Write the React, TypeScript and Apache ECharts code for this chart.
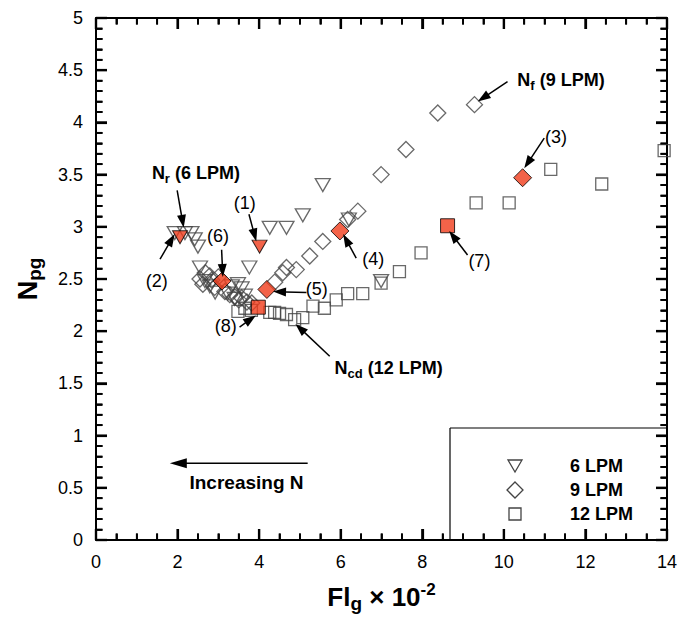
import { useEffect, useRef } from 'react';
import * as echarts from 'echarts';

const FONT = '"Liberation Sans", Arial, sans-serif';

// axis ticks
const xTickValues = [0, 2, 4, 6, 8, 10, 12, 14];
const yTickValues = [0, 0.5, 1, 1.5, 2, 2.5, 3, 3.5, 4, 4.5, 5];
const xMinorPerMajor = 4;
const yMinorPerMajor = 5;

// 6 LPM (hollow down-triangles)
const lpm6: [number, number][] = [
  [1.93, 2.94], [2.18, 2.94], [2.34, 2.94], [2.42, 2.88], [2.5, 2.81],
  [2.55, 2.61], [2.67, 2.48], [2.79, 2.43], [2.92, 2.37], [3.23, 2.36],
  [3.33, 2.43], [3.4, 2.31], [3.48, 2.45], [3.57, 2.41], [3.65, 2.34],
  [3.76, 2.61], [4.26, 2.99], [4.67, 2.99], [5.07, 3.11], [5.56, 3.4],
  [6.2, 3.07], [6.99, 2.48],
];
// 9 LPM (hollow diamonds)
const lpm9: [number, number][] = [
  [2.55, 2.5], [2.62, 2.45], [2.68, 2.56], [2.79, 2.53], [2.84, 2.49],
  [2.91, 2.42], [3.0, 2.52], [3.16, 2.38], [3.28, 2.35], [3.4, 2.33],
  [3.5, 2.3], [3.57, 2.32], [3.7, 2.28], [3.82, 2.27], [4.38, 2.47],
  [4.58, 2.56], [4.67, 2.61], [4.91, 2.59], [5.24, 2.72], [5.56, 2.86],
  [6.17, 3.07], [6.42, 3.15], [6.99, 3.5], [7.6, 3.74], [8.38, 4.09],
  [9.28, 4.17],
];
// 12 LPM (hollow squares)
const lpm12: [number, number][] = [
  [3.48, 2.19], [3.65, 2.22], [3.81, 2.2], [4.26, 2.18], [4.38, 2.18],
  [4.5, 2.17], [4.67, 2.16], [4.87, 2.11], [5.07, 2.13], [5.32, 2.24],
  [5.6, 2.22], [5.89, 2.3], [6.17, 2.36], [6.54, 2.36], [6.99, 2.46],
  [7.44, 2.57], [7.97, 2.75], [9.32, 3.23], [10.13, 3.23], [11.15, 3.55],
  [12.4, 3.41], [13.93, 3.73],
];
// highlighted (red) points
const red6: [number, number][] = [[4.01, 2.81], [2.06, 2.9]];
const red9: [number, number][] = [[10.46, 3.47], [5.98, 2.96], [4.19, 2.4], [3.09, 2.48]];
const red12: [number, number][] = [[8.62, 3.01], [3.98, 2.23]];

// numbered annotations: label position, arrow tail, arrow tip (data units)
const numberLabels = ['(1)', '(2)', '(3)', '(4)', '(5)', '(6)', '(7)', '(8)'];
const numberLabelPos: [number, number][] = [
  [3.65, 3.23], [1.49, 2.48], [11.28, 3.86], [6.8, 2.69],
  [5.41, 2.4], [2.99, 2.91], [9.4, 2.67], [3.18, 2.05],
];
const numberArrowTail: [number, number][] = [
  [3.75, 3.12], [1.57, 2.69], [10.99, 3.85], [6.38, 2.7],
  [5.16, 2.37], [3.08, 2.78], [9.11, 2.73], [3.52, 2.04],
];
const numberArrowTip: [number, number][] = [
  [3.93, 2.86], [1.93, 2.93], [10.5, 3.56], [6.06, 2.93],
  [4.34, 2.38], [3.11, 2.52], [8.66, 2.96], [3.92, 2.15],
];

// named annotations (N, subscript, rest)
const namedMain = ['N', 'N', 'N'];
const namedSub = ['r', 'f', 'cd'];
const namedRest = [' (6 LPM)', ' (9 LPM)', ' (12 LPM)'];
const namedPos: [number, number][] = [[1.37, 3.52], [10.33, 4.41], [5.85, 1.65]];
const namedTail: [number, number][] = [[1.99, 3.35], [10.09, 4.39], [5.73, 1.76]];
const namedTip: [number, number][] = [[2.15, 2.99], [9.36, 4.2], [4.89, 2.07]];

const increasingText = 'Increasing N';
const increasingPos: [number, number] = [3.69, 0.555];
const increasingTail: [number, number] = [5.19, 0.736];
const increasingTip: [number, number] = [1.81, 0.736];

const legendNames = ['6 LPM', '9 LPM', '12 LPM'];

function makeAxis(position: string, max: number, interval: number, minorSplit: number, showLabel: boolean, ticks: number[]) {
  return {
    type: 'value',
    position,
    min: 0,
    max,
    interval,
    axisLine: { show: true, onZero: false, lineStyle: { color: '#000', width: 2 } },
    axisTick: { show: true, inside: true, length: 11, lineStyle: { color: '#000', width: 2.2 } },
    minorTick: { show: true, splitNumber: minorSplit, length: 6.5, lineStyle: { color: '#000', width: 1.8 } },
    splitLine: { show: false },
    minorSplitLine: { show: false },
    axisLabel: showLabel
      ? {
          show: true, color: '#000', fontSize: 18, fontFamily: FONT, margin: 13,
          formatter: (v: number) => (ticks.includes(v) ? String(v) : ''),
        }
      : { show: false },
  };
}

export default function App() {
  const ref = useRef<HTMLDivElement>(null);
  useEffect(() => {
    document.body.style.margin = '0';
    const chart = echarts.init(ref.current!, null, { renderer: 'svg' });

    const hollow = () => ({ color: 'rgba(255,255,255,0)', borderColor: '#444', borderWidth: 1.3 });
    const redStyle = () => ({ color: '#f03c1c', borderColor: '#000', borderWidth: 1 });

    chart.setOption({
      animation: false,
      backgroundColor: '#fff',
      grid: { left: 96, right: 12, top: 18, bottom: 77, containLabel: false },
      xAxis: [
        {
          ...makeAxis('bottom', 14, 2, xMinorPerMajor, true, xTickValues),
          name: '{b|Fl}{s|g}{b| × 10}{p|-2}',
          nameLocation: 'middle',
          nameGap: 40,
          nameTextStyle: {
            rich: {
              b: { fontSize: 26, fontWeight: 'bold', fontFamily: FONT, color: '#000' },
              s: { fontSize: 19, fontWeight: 'bold', fontFamily: FONT, color: '#000', padding: [14, 0, 0, 0] },
              p: { fontSize: 17, fontWeight: 'bold', fontFamily: FONT, color: '#000', padding: [0, 0, 14, 0] },
            },
          },
        },
        makeAxis('top', 14, 2, xMinorPerMajor, false, xTickValues),
      ],
      yAxis: [
        {
          ...makeAxis('left', 5, 0.5, yMinorPerMajor, true, yTickValues),
          name: '{b|N}{s|pg}',
          nameLocation: 'middle',
          nameRotate: 90,
          nameGap: 52,
          nameTextStyle: {
            rich: {
              b: { fontSize: 27, fontWeight: 'bold', fontFamily: FONT, color: '#000' },
              s: { fontSize: 19, fontWeight: 'bold', fontFamily: FONT, color: '#000', padding: [14, 0, 0, 0] },
            },
          },
        },
        makeAxis('right', 5, 0.5, yMinorPerMajor, false, yTickValues),
      ],
      series: [
        { name: '6 LPM', type: 'scatter', data: lpm6, symbol: 'triangle', symbolRotate: 180, symbolSize: [15, 13], itemStyle: hollow(), z: 2 },
        { name: '9 LPM', type: 'scatter', data: lpm9, symbol: 'diamond', symbolSize: [16, 16], itemStyle: hollow(), z: 2 },
        { name: '12 LPM', type: 'scatter', data: lpm12, symbol: 'rect', symbolSize: 12, itemStyle: hollow(), z: 2 },
        { name: '6 LPM red', type: 'scatter', data: red6, symbol: 'triangle', symbolRotate: 180, symbolSize: [15, 13], itemStyle: redStyle(), z: 3 },
        { name: '9 LPM red', type: 'scatter', data: red9, symbol: 'diamond', symbolSize: [18, 18], itemStyle: redStyle(), z: 3 },
        { name: '12 LPM red', type: 'scatter', data: red12, symbol: 'rect', symbolSize: 14, itemStyle: redStyle(), z: 3 },
      ],
    });

    const px = (p: [number, number]) => chart.convertToPixel({ gridIndex: 0 }, p) as number[];

    const elements: any[] = [];

    const arrow = (tail: [number, number], tip: [number, number], headLen = 13, headW = 9) => {
      const [ax1, ay1] = px(tail);
      const [ax2, ay2] = px(tip);
      const dx = ax2 - ax1, dy = ay2 - ay1;
      const L = Math.hypot(dx, dy);
      const ux = dx / L, uy = dy / L;
      const bx = ax2 - ux * headLen, by = ay2 - uy * headLen;
      const nx = -uy, ny = ux;
      return [
        { type: 'line', z: 10, shape: { x1: ax1, y1: ay1, x2: bx + ux, y2: by + uy }, style: { stroke: '#000', lineWidth: 1.5 } },
        {
          type: 'polygon', z: 10,
          shape: { points: [[ax2, ay2], [bx + (nx * headW) / 2, by + (ny * headW) / 2], [bx - (nx * headW) / 2, by - (ny * headW) / 2]] },
          style: { fill: '#000' },
        },
      ];
    };

    numberLabels.forEach((t, i) => {
      const [x, y] = px(numberLabelPos[i]);
      elements.push({
        type: 'text', x, y, z: 10,
        style: { text: t, fontSize: 18, fontFamily: FONT, fill: '#000', align: 'center', verticalAlign: 'middle' },
      });
      elements.push(...arrow(numberArrowTail[i], numberArrowTip[i]));
    });
    namedMain.forEach((m, i) => {
      const [x, y] = px(namedPos[i]);
      elements.push({
        type: 'text', x, y, z: 10,
        style: {
          text: `{b|${m}}{s|${namedSub[i]}}{b|${namedRest[i]}}`,
          align: 'left', verticalAlign: 'middle',
          rich: {
            b: { fontSize: 18, fontWeight: 'bold', fontFamily: FONT, fill: '#000', color: '#000' },
            s: { fontSize: 13, fontWeight: 'bold', fontFamily: FONT, fill: '#000', color: '#000', padding: [11, 0, 0, 0] },
          },
        },
      });
      elements.push(...arrow(namedTail[i], namedTip[i]));
    });
    {
      const [x, y] = px(increasingPos);
      elements.push({
        type: 'text', x, y, z: 10,
        style: { text: increasingText, fontSize: 19, fontWeight: 'bold', fontFamily: FONT, fill: '#000', align: 'center', verticalAlign: 'middle' },
      });
      elements.push(...arrow(increasingTail, increasingTip, 17, 10));
    }

    const [x0, y0] = px([0, 0]);
    const [x1, y1] = px([14, 5]);

    // legend box (top & left edges; right & bottom are the axes)
    const boxL = 450, boxT = 428;
    elements.push({ type: 'line', z: 5, shape: { x1: boxL, y1: boxT, x2: x1, y2: boxT }, style: { stroke: '#000', lineWidth: 1.2 } });
    elements.push({ type: 'line', z: 5, shape: { x1: boxL, y1: boxT, x2: boxL, y2: y0 }, style: { stroke: '#000', lineWidth: 1.2 } });
    const legY = [466, 490, 514];
    const symX = 515;
    elements.push({ type: 'polygon', z: 6, shape: { points: [[symX - 7, legY[0] - 6], [symX + 7, legY[0] - 6], [symX, legY[0] + 6]] }, style: { fill: 'none', stroke: '#444', lineWidth: 1.3 } });
    elements.push({ type: 'polygon', z: 6, shape: { points: [[symX, legY[1] - 8], [symX + 8, legY[1]], [symX, legY[1] + 8], [symX - 8, legY[1]]] }, style: { fill: 'none', stroke: '#444', lineWidth: 1.3 } });
    elements.push({ type: 'rect', z: 6, shape: { x: symX - 6, y: legY[2] - 6, width: 12, height: 12 }, style: { fill: 'none', stroke: '#444', lineWidth: 1.3 } });
    legendNames.forEach((n, i) => {
      elements.push({
        type: 'text', x: 570, y: legY[i], z: 6,
        style: { text: n, fontSize: 18, fontWeight: 'bold', fontFamily: FONT, fill: '#000', align: 'left', verticalAlign: 'middle' },
      });
    });

    // tick marks on all four sides, positioned through the axes' scales
    const tick = (xa: number, ya: number, xb: number, yb: number, w: number) => {
      elements.push({ type: 'line', z: 7, shape: { x1: xa, y1: ya, x2: xb, y2: yb }, style: { stroke: '#000', lineWidth: w } });
    };
    for (let i = 0; i < xTickValues.length; i++) {
      const v = xTickValues[i];
      const x = px([v, 0])[0];
      tick(x, y0, x, y0 - 11, 2.2);
      tick(x, y1, x, y1 + 11, 2.2);
      if (i < xTickValues.length - 1) {
        const step = (xTickValues[i + 1] - v) / xMinorPerMajor;
        for (let k = 1; k < xMinorPerMajor; k++) {
          const xm = px([v + step * k, 0])[0];
          tick(xm, y0, xm, y0 - 6.5, 1.8);
          tick(xm, y1, xm, y1 + 6.5, 1.8);
        }
      }
    }
    for (let i = 0; i < yTickValues.length; i++) {
      const v = yTickValues[i];
      const y = px([0, v])[1];
      tick(x0, y, x0 + 11, y, 2.2);
      tick(x1, y, x1 - 11, y, 2.2);
      if (i < yTickValues.length - 1) {
        const step = (yTickValues[i + 1] - v) / yMinorPerMajor;
        for (let k = 1; k < yMinorPerMajor; k++) {
          const ym = px([0, v + step * k])[1];
          tick(x0, ym, x0 + 6.5, ym, 1.8);
          tick(x1, ym, x1 - 6.5, ym, 1.8);
        }
      }
    }

    chart.setOption({ graphic: { elements } });

    return () => chart.dispose();
  }, []);
  return <div ref={ref} style={{ width: 680, height: 618 }} />;
}
